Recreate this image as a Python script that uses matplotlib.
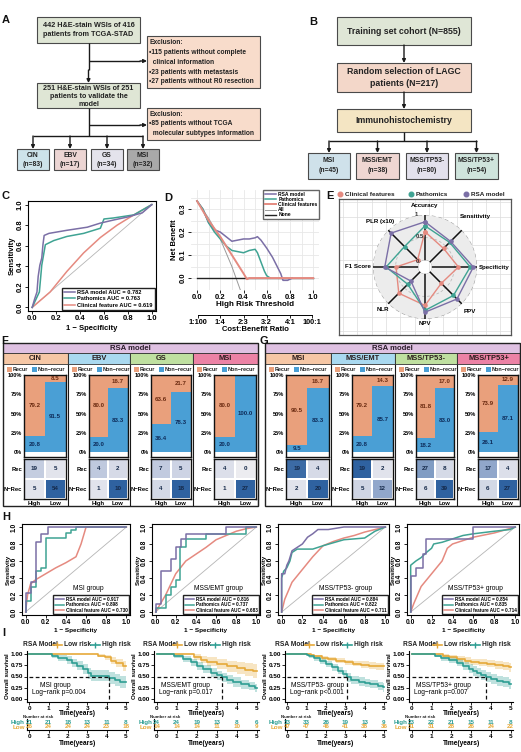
import numpy as np
import matplotlib
matplotlib.use('Agg')
import matplotlib.pyplot as plt
from matplotlib.patches import Rectangle
from matplotlib.colors import LinearSegmentedColormap

# ------------------------------------------------------------------ DATA
A_top = ['442 H&E-stain WSIs of 416', 'patients from TCGA-STAD']
A_excl1 = ['Exclusion:', '\u2022115 patients without complete', '  clinical information',
           '\u202223 patients with metastasis', '\u202227 patients without R0 resection']
A_mid = ['251 H&E-stain WSIs of 251', 'patients to validate the', 'model']
A_excl2 = ['Exclusion:', '\u202285 patients without TCGA', '  molecular subtypes information']
A_subtypes = ['CIN', 'EBV', 'GS', 'MSI']
A_counts = [83, 17, 34, 32]

B_steps = ['Training set cohort (N=855)', 'Random selection of LAGC\npatients (N=217)', 'Immunohistochemistry']
B_subtypes = ['MSI', 'MSS/EMT', 'MSS/TP53-', 'MSS/TP53+']
B_counts = [45, 38, 80, 54]

C_rsa_fpr = [0, 0.02, 0.04, 0.05, 0.064, 0.08, 0.09, 0.10, 0.14, 0.29, 0.46, 0.57, 0.68, 0.80, 0.92, 1.0]
C_rsa_tpr = [0, 0.08, 0.15, 0.30, 0.41, 0.48, 0.61, 0.70, 0.72, 0.75, 0.78, 0.82, 0.85, 0.88, 0.92, 1.0]
C_path_fpr = [0, 0.06, 0.08, 0.11, 0.18, 0.29, 0.43, 0.57, 0.60, 0.68, 0.85, 1.0]
C_path_tpr = [0, 0.15, 0.41, 0.61, 0.65, 0.69, 0.72, 0.77, 0.86, 0.87, 0.90, 1.0]
C_clin_fpr = [0, 0.15, 0.29, 0.43, 0.57, 0.71, 0.85, 1.0]
C_clin_tpr = [0, 0.15, 0.35, 0.53, 0.68, 0.80, 0.90, 1.0]
C_auc = [0.782, 0.763, 0.619]

D_rsa_x = [0, 0.05, 0.10, 0.15, 0.20, 0.25, 0.30, 0.35, 0.40, 0.45, 0.50, 0.52, 0.55, 0.60, 0.65, 0.70, 0.72, 0.74, 0.78, 0.80, 0.82]
D_rsa_y = [0.335, 0.30, 0.24, 0.21, 0.20, 0.18, 0.16, 0.165, 0.17, 0.17, 0.175, 0.18, 0.165, 0.13, 0.09, 0.04, 0.02, -0.01, -0.01, -0.005, 0.0]
D_path_x = [0, 0.05, 0.10, 0.15, 0.20, 0.25, 0.30, 0.35, 0.40, 0.45, 0.50, 0.52, 0.55, 0.58, 0.60, 0.63]
D_path_y = [0.335, 0.30, 0.24, 0.20, 0.17, 0.14, 0.12, 0.115, 0.11, 0.12, 0.125, 0.11, 0.07, 0.03, 0.01, 0.0]
D_clin_x = [0, 0.10, 0.20, 0.30, 0.35, 0.40, 0.43, 0.45, 1.0]
D_clin_y = [0.335, 0.25, 0.18, 0.10, 0.06, 0.02, -0.005, 0.0, 0.0]
D_all_x = [0, 0.10, 0.20, 0.30, 0.35, 0.40]
D_all_y = [0.335, 0.26, 0.17, 0.05, -0.02, -0.09]
D_cb_ticks = [0.01, 0.2, 0.4, 0.6, 0.8, 0.99]
D_cb_labels = ['1:100', '1:4', '2:3', '3:2', '4:1', '100:1']

E_axes = ['Accuracy', 'Sensitivity', 'Specificity', 'PPV', 'NPV', 'NLR', 'F1 Score', 'PLR (x10)']
E_rsa = [0.85, 0.65, 0.92, 0.85, 0.85, 0.29, 0.74, 0.91]
E_path = [0.76, 0.62, 0.85, 0.74, 0.81, 0.39, 0.71, 0.49]
E_clin = [0.63, 0.43, 0.59, 0.36, 0.70, 0.67, 0.49, 0.08]

F_groups = ['CIN', 'EBV', 'GS', 'MSI']
F_high_recur = [79.2, 80.0, 63.6, 80.0]
F_high_nonrecur = [20.8, 20.0, 36.4, 20.0]
F_low_recur = [8.5, 16.7, 21.7, 0.0]
F_low_nonrecur = [91.5, 83.3, 78.3, 100.0]
F_conf = [[[19, 5], [5, 54]], [[4, 2], [1, 10]], [[7, 5], [4, 18]], [[4, 0], [1, 27]]]

G_groups = ['MSI', 'MSS/EMT', 'MSS/TP53-', 'MSS/TP53+']
G_high_recur = [90.5, 79.2, 81.8, 73.9]
G_high_nonrecur = [9.5, 20.8, 18.2, 26.1]
G_low_recur = [16.7, 14.3, 17.0, 12.9]
G_low_nonrecur = [83.3, 85.7, 83.0, 87.1]
G_conf = [[[19, 4], [2, 20]], [[19, 2], [5, 12]], [[27, 8], [6, 39]], [[17, 4], [6, 27]]]

H_titles = ['MSI group', 'MSS/EMT group', 'MSS/TP53- group', 'MSS/TP53+ group']
H_auc_rsa = [0.917, 0.816, 0.884, 0.854]
H_auc_path = [0.898, 0.737, 0.822, 0.835]
H_auc_clin = [0.730, 0.683, 0.711, 0.714]
H_rsa_fpr = [[0, 0, 0.05, 0.05, 0.10, 0.10, 0.15, 0.15, 0.22, 0.22, 1.0],
             [0, 0, 0.05, 0.05, 0.15, 0.15, 0.20, 0.20, 0.25, 0.25, 0.30, 0.30, 0.70, 0.70, 1.0],
             [0, 0, 0.03, 0.05, 0.07, 0.10, 0.15, 0.20, 0.25, 0.30, 0.35, 0.45, 0.60, 1.0],
             [0, 0, 0.05, 0.05, 0.12, 0.12, 0.15, 0.15, 0.60, 0.60, 1.0]]
H_rsa_tpr = [[0, 0.22, 0.22, 0.35, 0.35, 0.82, 0.82, 0.92, 0.92, 1.0, 1.0],
             [0, 0.10, 0.10, 0.48, 0.48, 0.62, 0.62, 0.76, 0.76, 0.86, 0.86, 0.92, 0.92, 1.0, 1.0],
             [0, 0.45, 0.45, 0.55, 0.60, 0.72, 0.76, 0.80, 0.88, 0.92, 0.97, 0.97, 1.0, 1.0],
             [0, 0.42, 0.42, 0.52, 0.52, 0.68, 0.68, 0.86, 0.86, 1.0, 1.0]]
H_path_fpr = [[0, 0, 0.05, 0.05, 0.10, 0.10, 0.15, 0.15, 0.20, 0.20, 0.40, 0.40, 0.45, 0.45, 0.50, 0.50, 1.0],
              [0, 0, 0.10, 0.10, 0.15, 0.15, 0.20, 0.20, 0.24, 0.24, 0.30, 0.30, 0.50, 0.50, 0.90, 0.90, 1.0],
              [0, 0, 0.02, 0.05, 0.08, 0.10, 0.15, 0.30, 0.40, 0.60, 0.80, 0.90, 1.0],
              [0, 0, 0.05, 0.10, 0.15, 0.20, 0.22, 0.30, 0.40, 0.50, 0.60, 0.80, 0.95, 1.0]]
H_path_tpr = [[0, 0.13, 0.13, 0.30, 0.30, 0.48, 0.48, 0.52, 0.52, 0.87, 0.87, 0.93, 0.93, 0.97, 0.97, 1.0, 1.0],
              [0, 0.05, 0.05, 0.20, 0.20, 0.30, 0.30, 0.38, 0.38, 0.76, 0.76, 0.86, 0.86, 0.92, 0.92, 1.0, 1.0],
              [0, 0.40, 0.48, 0.52, 0.60, 0.70, 0.74, 0.74, 0.78, 0.85, 0.87, 0.95, 1.0],
              [0, 0.55, 0.60, 0.64, 0.70, 0.75, 0.80, 0.82, 0.86, 0.90, 0.92, 0.95, 0.97, 1.0]]
H_clin_fpr = [[0, 0.02, 0.05, 0.10, 0.20, 0.30, 0.40, 0.50, 0.55, 0.60, 1.0],
              [0, 0.10, 0.20, 0.30, 0.40, 0.50, 0.60, 0.70, 0.80, 0.90, 1.0],
              [0, 0.03, 0.10, 0.20, 0.30, 0.40, 0.50, 0.60, 0.70, 0.80, 0.90, 1.0],
              [0, 0.03, 0.10, 0.20, 0.30, 0.35, 0.40, 0.50, 0.60, 0.80, 1.0]]
H_clin_tpr = [[0, 0.20, 0.33, 0.38, 0.45, 0.52, 0.58, 0.65, 0.80, 1.0, 1.0],
              [0, 0.20, 0.45, 0.60, 0.68, 0.76, 0.85, 0.90, 0.95, 0.98, 1.0],
              [0, 0.15, 0.35, 0.50, 0.65, 0.78, 0.83, 0.87, 0.90, 0.94, 0.97, 1.0],
              [0, 0.10, 0.30, 0.45, 0.60, 0.75, 0.80, 0.84, 0.88, 0.93, 1.0]]

I_pvals = ['Log\u2212rank p=0.004', 'Log\u2212rank p=0.017', 'Log\u2212rank p<0.001', 'Log\u2212rank p=0.007']
I_low_t = [[0, 3.55, 3.9, 4.2, 4.5, 4.85, 5.0],
           [0, 1.85, 2.2, 2.5, 3.0, 3.5, 4.0, 4.4, 4.8, 5.0],
           [0, 1.2, 1.4, 1.8, 2.1, 2.5, 3.0, 3.4, 3.8, 4.2, 4.6, 5.0],
           [0, 1.6, 1.9, 2.3, 2.7, 3.0, 3.4, 3.8, 4.2, 4.6, 4.9, 5.0]]
I_low_s = [[1.0, 0.96, 0.92, 0.85, 0.80, 0.74, 0.74],
           [1.0, 0.93, 0.87, 0.82, 0.78, 0.72, 0.68, 0.65, 0.62, 0.62],
           [1.0, 0.97, 0.94, 0.91, 0.88, 0.85, 0.81, 0.78, 0.76, 0.74, 0.72, 0.72],
           [1.0, 0.96, 0.92, 0.88, 0.85, 0.82, 0.80, 0.78, 0.75, 0.73, 0.70, 0.70]]
I_low_ci = [[0.0, 0.04, 0.06, 0.08, 0.09, 0.11, 0.11],
            [0.0, 0.06, 0.08, 0.10, 0.11, 0.12, 0.13, 0.14, 0.15, 0.15],
            [0.0, 0.02, 0.03, 0.04, 0.05, 0.05, 0.06, 0.06, 0.07, 0.07, 0.07, 0.07],
            [0.0, 0.03, 0.05, 0.06, 0.07, 0.07, 0.08, 0.08, 0.09, 0.09, 0.10, 0.10]]
I_high_t = [[0, 1.15, 1.5, 1.95, 2.2, 2.45, 2.8, 3.05, 3.2, 4.1, 4.45, 4.7, 5.0],
            [0, 0.85, 1.3, 1.7, 2.0, 2.3, 2.7, 3.0, 3.25, 3.5, 3.8, 4.2, 4.6, 4.9, 5.0],
            [0, 1.0, 1.1, 1.4, 1.7, 2.0, 2.3, 2.6, 2.9, 3.1, 3.3, 3.7, 4.0, 4.3, 4.7, 4.95, 5.0],
            [0, 1.2, 1.5, 1.9, 2.3, 2.6, 2.9, 3.1, 3.3, 3.5, 3.75, 4.0, 4.3, 4.6, 4.9, 5.0]]
I_high_s = [[1.0, 0.95, 0.90, 0.86, 0.80, 0.74, 0.66, 0.57, 0.52, 0.46, 0.42, 0.38, 0.38],
            [1.0, 0.95, 0.88, 0.81, 0.73, 0.66, 0.58, 0.53, 0.48, 0.43, 0.38, 0.33, 0.30, 0.25, 0.25],
            [1.0, 0.97, 0.94, 0.90, 0.84, 0.78, 0.70, 0.63, 0.56, 0.48, 0.43, 0.39, 0.36, 0.33, 0.29, 0.26, 0.26],
            [1.0, 0.96, 0.91, 0.86, 0.80, 0.73, 0.67, 0.62, 0.57, 0.53, 0.48, 0.44, 0.40, 0.37, 0.34, 0.34]]
I_high_ci = [[0.0, 0.05, 0.07, 0.08, 0.09, 0.10, 0.11, 0.12, 0.12, 0.13, 0.13, 0.13, 0.13],
             [0.0, 0.04, 0.06, 0.07, 0.08, 0.09, 0.10, 0.10, 0.10, 0.10, 0.10, 0.10, 0.09, 0.09, 0.09],
             [0.0, 0.03, 0.04, 0.05, 0.06, 0.07, 0.08, 0.08, 0.09, 0.09, 0.09, 0.09, 0.09, 0.09, 0.09, 0.09, 0.09],
             [0.0, 0.04, 0.06, 0.07, 0.08, 0.09, 0.10, 0.10, 0.11, 0.11, 0.11, 0.11, 0.11, 0.11, 0.11, 0.11]]
I_median = [4.1, 3.25, 3.1, 3.75]
I_risk_times = [0, 1, 2, 3, 4, 5]
I_risk_high = [[21, 21, 18, 13, 11, 8], [24, 24, 19, 13, 8, 6], [33, 33, 26, 19, 13, 9], [23, 22, 21, 15, 11, 8]]
I_risk_low = [[26, 24, 24, 24, 23, 18], [14, 14, 14, 11, 10, 9], [47, 47, 46, 41, 38, 36], [31, 31, 28, 26, 24, 22]]

# ------------------------------------------------------------------ STYLE
C_RSA, C_PATH, C_CLIN = '#7b6fa6', '#3fa393', '#e58a80'
C_RECUR, C_NONREC = '#e9a07c', '#4a9fd5'
C_LOW, C_HIGH = '#e6a93a', '#2e9e93'
W, H = 521, 752
plt.rcParams['font.family'] = ['Liberation Sans', 'DejaVu Sans']
plt.rcParams['font.weight'] = 'bold'
plt.rcParams['axes.labelweight'] = 'bold'
plt.rcParams['axes.linewidth'] = 0.8

fig = plt.figure(figsize=(W / 100, H / 100), dpi=100)
fig.patch.set_facecolor('white')


def axpx(x0, y0, x1, y1, **kw):
    return fig.add_axes([x0 / W, 1 - y1 / H, (x1 - x0) / W, (y1 - y0) / H], **kw)


bg = fig.add_axes([0, 0, 1, 1])
bg.set_xlim(0, W)
bg.set_ylim(H, 0)
bg.axis('off')


def rect(x0, y0, x1, y1, fc, ec='#4a4a4a', lw=0.8, z=1):
    bg.add_patch(Rectangle((x0, y0), x1 - x0, y1 - y0, facecolor=fc, edgecolor=ec, lw=lw, zorder=z))


def seg(xs, ys, lw=1.0):
    bg.plot(xs, ys, color='#1a1a1a', lw=lw, solid_capstyle='butt', zorder=2)


def arrow(x, y0, y1=None, x1=None):
    if y1 is None:
        y1 = y0
    if x1 is None:
        x1 = x
    bg.annotate('', xy=(x1, y1), xytext=(x, y0),
                arrowprops=dict(arrowstyle='-|>', color='#1a1a1a', lw=1.0,
                                shrinkA=0, shrinkB=0, mutation_scale=5), zorder=3)


def txt(x, y, s, fs=5, ha='center', va='center', color='#222222', **kw):
    bg.text(x, y, s, fontsize=fs, ha=ha, va=va, color=color, zorder=5, **kw)


def panel_letter(x, y, s):
    txt(x, y, s, fs=8, ha='left', color='#111111')


# ------------------------------------------------------------------ A
panel_letter(2, 20, 'A')
rect(37, 17, 140, 43, '#dfe6d5')
for i, s in enumerate(A_top):
    txt(88.5, 25.5 + i * 9.5, s, fs=5.2)
rect(147, 36, 260, 88, '#f8dccb')
for i, s in enumerate(A_excl1):
    txt(149, 43 + i * 9.7, s, fs=4.75, ha='left')
rect(37, 83, 140, 108, '#dfe6d5')
for i, s in enumerate(A_mid):
    txt(88.5, 89 + i * 7.6, s, fs=5.1)
rect(147, 108, 260, 140, '#f8dccb')
for i, s in enumerate(A_excl2):
    txt(149, 114 + i * 9.7, s, fs=4.75, ha='left')
seg([88.5, 88.5], [43, 70])
arrow(88.5, 70, 83)
seg([88.5, 140], [61, 61])
arrow(140, 61, 61, x1=147)
seg([88.5, 88.5], [108, 136])
seg([88.5, 140], [125, 125])
arrow(140, 125, 125, x1=147)
A_box_x = [(17, 49), (54, 86), (91, 123), (127, 159)]
A_colors = ['#cde3ea', '#ecd5d3', '#e4e3ec', '#a9a9a9']
seg([33, 143], [136, 136])
for (x0, x1), name, n, c in zip(A_box_x, A_subtypes, A_counts, A_colors):
    xc = (x0 + x1) / 2
    arrow(xc, 136, 149)
    rect(x0, 149, x1, 170, c)
    txt(xc, 155.5, name, fs=4.9)
    txt(xc, 164.5, '(n=%d)' % n, fs=4.9)

# ------------------------------------------------------------------ B
panel_letter(309, 22, 'B')
B_colors = ['#dfe6d6', '#f3d7c9', '#f4e5c3']
B_y = [(17, 45), (63, 92), (109, 132)]
for (y0, y1), s, c in zip(B_y, B_steps, B_colors):
    rect(337, y0, 471, y1, c)
    txt(404, (y0 + y1) / 2, s, fs=6.3, linespacing=1.45)
arrow(404, 45, 63)
arrow(404, 92, 109)
seg([404, 404], [132, 141])
seg([329, 477], [141, 141])
B_box_x = [(308, 350), (356, 399), (406, 448), (455, 498)]
B_sub_colors = ['#cfe1ea', '#efd6d2', '#e3e1ec', '#cfe4dc']
for (x0, x1), name, n, c in zip(B_box_x, B_subtypes, B_counts, B_sub_colors):
    xc = (x0 + x1) / 2
    arrow(xc, 141, 153)
    rect(x0, 153, x1, 179, c)
    txt(xc, 160.5, name, fs=4.9)
    txt(xc, 171, '(n=%d)' % n, fs=4.9)


# ------------------------------------------------------------------ helpers
def roc_axes(ax, fs=5.2):
    ax.plot([0, 1], [0, 1], color='#b5b5b5', lw=0.6, zorder=1)
    ax.set_xlim(-0.035, 1.035)
    ax.set_ylim(-0.035, 1.035)
    ticks = [0, 0.2, 0.4, 0.6, 0.8, 1.0]
    ax.set_xticks(ticks)
    ax.set_yticks(ticks)
    ax.set_xticklabels(['%.1f' % t for t in ticks])
    ax.set_yticklabels(['%.1f' % t for t in ticks], rotation=90, va='center')
    ax.tick_params(labelsize=fs, length=2, width=0.6, pad=1)
    for sp in ax.spines.values():
        sp.set_linewidth(0.8)


# ------------------------------------------------------------------ C
panel_letter(2, 196, 'C')
axC = axpx(28, 201, 156, 311)
axC.plot(C_rsa_fpr, C_rsa_tpr, color=C_RSA, lw=1.1,
         label='RSA model AUC = %.3f' % C_auc[0], zorder=4)
axC.plot(C_path_fpr, C_path_tpr, color=C_PATH, lw=1.1,
         label='Pathomics AUC = %.3f' % C_auc[1], zorder=3)
axC.plot(C_clin_fpr, C_clin_tpr, color=C_CLIN, lw=1.1,
         label='Clinical feature AUC = %.3f' % C_auc[2], zorder=2)
roc_axes(axC, fs=5.5)
axC.set_xlabel('1 \u2212 Specificity', fontsize=5.5, labelpad=2)
axC.set_ylabel('Sensitivity', fontsize=5.5, labelpad=1)
axC.legend(loc='lower right', fontsize=4.1, frameon=True, fancybox=False, edgecolor='#222222',
           framealpha=1, handlelength=1.8, borderpad=0.35, labelspacing=0.25,
           borderaxespad=0.2, handletextpad=0.5)

# ------------------------------------------------------------------ D
panel_letter(164, 198, 'D')
axD = axpx(191, 190, 319, 290)
axD.plot(D_rsa_x, D_rsa_y, color=C_RSA, lw=1.1, label='RSA model', zorder=4)
axD.plot(D_path_x, D_path_y, color=C_PATH, lw=1.1, label='Pathomics', zorder=4)
axD.plot(D_clin_x, D_clin_y, color=C_CLIN, lw=1.4, label='Clinical features', zorder=5)
axD.plot(D_all_x, D_all_y, color='#9a9a9a', lw=0.7, label='All', zorder=3)
axD.plot([0, 1], [0, 0], color='#222222', lw=1.0, label='None', zorder=3)
axD.set_xlim(-0.052, 1.05)
axD.set_ylim(-0.052, 0.383)
axD.set_xticks([0, 0.2, 0.4, 0.6, 0.8, 1.0])
axD.set_xticklabels(['0.0', '0.2', '0.4', '0.6', '0.8', '1.0'])
axD.set_yticks([0, 0.1, 0.2, 0.3])
axD.set_yticklabels(['0.0', '0.1', '0.2', '0.3'], rotation=90, va='center')
axD.set_xticks([0.1, 0.3, 0.5, 0.7, 0.9], minor=True)
axD.set_yticks([0.05, 0.15, 0.25, 0.35], minor=True)
axD.grid(True, which='both', color='#e8e8e8', lw=0.6)
axD.tick_params(labelsize=5.5, length=2, width=0.6, pad=1)
axD.tick_params(which='minor', length=0)
for sp in axD.spines.values():
    sp.set_visible(False)
axD.set_xlabel('High Risk Threshold', fontsize=5.8, labelpad=0)
axD.set_ylabel('Net Benefit', fontsize=5.5, labelpad=1)
axD.legend(loc='upper right', bbox_to_anchor=(1.0, 1.0), fontsize=3.6, frameon=True, fancybox=False,
           edgecolor='#666666', framealpha=1, handlelength=2.2, borderpad=0.3, labelspacing=0.05,
           borderaxespad=0.0, handletextpad=0.5)
sec = axD.secondary_xaxis(-0.25)
sec.set_xticks(D_cb_ticks)
sec.set_xticklabels(D_cb_labels)
sec.tick_params(labelsize=5.3, length=2, width=0.6, pad=1)
sec.spines['bottom'].set_bounds(0.01, 0.99)
sec.spines['bottom'].set_linewidth(0.7)
sec.set_xlabel('Cost:Benefit Ratio', fontsize=5.5, labelpad=0)

# ------------------------------------------------------------------ E
panel_letter(326, 196, 'E')
for xd, name, c in [(340, 'Clinical features', C_CLIN), (411, 'Pathomics', C_PATH), (466, 'RSA model', C_RSA)]:
    bg.plot([xd], [194], 'o', color=c, ms=3.3, zorder=5)
    txt(xd + 5, 194.5, name, fs=4.6, ha='left')
axEb = axpx(339, 199, 511, 335)
axEb.set_xlim(0, 172)
axEb.set_ylim(0, 136)
axEb.set_xticks(np.arange(4, 172, 14.3))
axEb.set_yticks(np.arange(4, 136, 14.3))
axEb.grid(True, color='#dcdcdc', lw=0.5)
axEb.tick_params(length=0, labelbottom=False, labelleft=False)
for sp in axEb.spines.values():
    sp.set_color('#555555')
    sp.set_linewidth(0.9)
R = 52
axE = axpx(425 - R, 267 - R, 425 + R, 267 + R, projection='polar')
axE.set_theta_zero_location('N')
axE.set_theta_direction(-1)
axE.set_ylim(0, 1)
axE.set_rorigin(-0.15)
axE.axis('off')
th = np.linspace(0, 2 * np.pi, 200)
axE.fill_between(th, 0, 1, color='#ececec', zorder=1, lw=0)
axE.plot(th, np.ones_like(th), color='#9a9a9a', lw=0.7, ls=(0, (4, 3)), zorder=2)
axE.plot(th, np.full_like(th, 0.5), color='#b5b5b5', lw=0.5, ls=(0, (4, 3)), zorder=2)
axE.plot(th, np.zeros_like(th), color='#a0a0a0', lw=0.5, zorder=2)
angles = np.arange(8) * 2 * np.pi / 8
for a in angles:
    axE.plot([a, a], [0, 1], color='#111111', lw=1.1, zorder=3)
ang_c = np.append(angles, angles[0])
for vals, c in [(E_clin, C_CLIN), (E_path, C_PATH), (E_rsa, C_RSA)]:
    v = np.append(vals, vals[0])
    axE.plot(ang_c, v, color=c, lw=1.0, marker='o', ms=2.3, zorder=4)
E_lab_r = [1.20, 1.42, 1.38, 1.24, 1.11, 1.18, 1.33, 1.27]
for a, name, r in zip(angles, E_axes, E_lab_r):
    axE.text(a, r, name, fontsize=4.4, ha='center', va='center', clip_on=False, zorder=5)
for r, s in [(1.0, '1'), (0.5, '0.5'), (0.02, '0')]:
    axE.text(-0.16 if r > 0.1 else -0.9, r + 0.03, s, fontsize=4.2, ha='center', va='center',
             color='#333333', zorder=5, clip_on=False)


# ------------------------------------------------------------------ F / G
cmap_conf = LinearSegmentedColormap.from_list('conf', ['#ececf0', '#b4c0da', '#2f62a0'])


def subtype_block(c0, c1, name, hcol, hr, hn, lr, ln, conf):
    rect(c0, 353, c1, 363.5, hcol, ec='#333333', lw=0.6, z=2)
    txt((c0 + c1) / 2, 358.5, name, fs=5.4, color='#2b1d1d')
    rect(c0 + 3.5, 366.5, c0 + 9, 371.5, C_RECUR, ec='none', z=2)
    txt(c0 + 9.5, 369.3, 'Recur', fs=3.9, ha='left')
    rect(c0 + 28.5, 366.5, c0 + 34, 371.5, C_NONREC, ec='none', z=2)
    txt(c0 + 34.5, 369.3, 'Non\u2212recur', fs=3.9, ha='left')
    axb = axpx(c0 + 21, 375, c1 - 2.5, 457)
    xs = [0, 1]
    nonrec = [hn, ln]
    recur = [hr, lr]
    axb.bar(xs, nonrec, width=1.0, color=C_NONREC, lw=0)
    axb.bar(xs, recur, width=1.0, bottom=nonrec, color=C_RECUR, lw=0)
    for x, n, r in zip(xs, nonrec, recur):
        if n > 0:
            axb.text(x, n / 2, '%.1f' % n, fontsize=4.4, ha='center', va='center', color='#0e2c5a')
        if r > 0:
            axb.text(x, n + r / 2, '%.1f' % r, fontsize=4.4, ha='center', va='center', color='#6a2a10')
    axb.set_xlim(-0.5, 1.5)
    axb.set_ylim(-6, 100)
    axb.set_xticks([])
    axb.set_yticks([0, 25, 50, 75, 100])
    axb.set_yticklabels(['0%', '25%', '50%', '75%', '100%'])
    axb.tick_params(labelsize=4.1, length=0, pad=1.5)
    for sp in axb.spines.values():
        sp.set_linewidth(1.0)
        sp.set_color('#111111')
    axc = axpx(c0 + 21, 459, c1 - 2.5, 499)
    m = np.array(conf, dtype=float)
    axc.pcolormesh(np.arange(3), np.arange(3), m, cmap=cmap_conf, vmin=0, vmax=m.max(),
                   edgecolors='white', linewidth=1.2)
    for i in range(2):
        for j in range(2):
            axc.text(j + 0.5, i + 0.5, '%d' % conf[i][j], fontsize=4.5, ha='center', va='center',
                     color='#142848')
    axc.set_xlim(0, 2)
    axc.set_ylim(2, 0)
    axc.set_xticks([0.5, 1.5])
    axc.set_xticklabels(['High', 'Low'])
    axc.set_yticks([0.5, 1.5])
    axc.set_yticklabels(['Rec', 'N\u2212Rec'])
    axc.tick_params(labelsize=4.2, length=0, pad=1.5)
    for sp in axc.spines.values():
        sp.set_linewidth(1.0)
        sp.set_color('#111111')


def big_panel(x0, x1, cols, names, hcols, hr, hn, lr, ln, confs):
    rect(x0, 343, x1, 353, '#dfc1e2', ec='#333333', lw=0.6, z=2)
    txt((x0 + x1) / 2, 348.3, 'RSA model', fs=5.6, color='#2b1d2b')
    for (c0, c1), nm, hc, a, b, c, d, cf in zip(cols, names, hcols, hr, hn, lr, ln, confs):
        subtype_block(c0, c1, nm, hc, a, b, c, d, cf)
        seg([c1, c1], [353, 506], lw=0.8)
    rect(x0, 343, x1, 506, 'none', ec='#222222', lw=1.0, z=3)


hcols = ['#f6c7a5', '#a9d9f0', '#bfe0a0', '#ec82a5']
panel_letter(1, 341, 'F')
big_panel(3, 258, [(3, 68), (68, 130), (130, 193), (193, 258)], F_groups, hcols,
          F_high_recur, F_high_nonrecur, F_low_recur, F_low_nonrecur, F_conf)
panel_letter(259, 341, 'G')
big_panel(265, 520, [(265, 331), (331, 395), (395, 457), (457, 520)], G_groups, hcols,
          G_high_recur, G_high_nonrecur, G_low_recur, G_low_nonrecur, G_conf)

# ------------------------------------------------------------------ H
panel_letter(2, 517, 'H')
H_pos = [(22, 130), (152, 260), (278, 389), (407, 519)]
for k, (x0, x1) in enumerate(H_pos):
    ax = axpx(x0, 524, x1, 615)
    ax.plot(H_rsa_fpr[k], H_rsa_tpr[k], color=C_RSA, lw=1.1, zorder=4,
            label='RSA model AUC = %.3f' % H_auc_rsa[k])
    ax.plot(H_path_fpr[k], H_path_tpr[k], color=C_PATH, lw=1.1, zorder=3,
            label='Pathomics AUC = %.3f' % H_auc_path[k])
    ax.plot(H_clin_fpr[k], H_clin_tpr[k], color=C_CLIN, lw=1.1, zorder=2,
            label='Clinical feature AUC = %.3f' % H_auc_clin[k])
    roc_axes(ax, fs=4.8)
    ax.set_xlabel('1 \u2212 Specificity', fontsize=4.6, labelpad=1)
    ax.set_ylabel('Sensitivity', fontsize=4.3, labelpad=0)
    ax.legend(loc='lower right', fontsize=3.3, frameon=True, fancybox=False, edgecolor='#222222',
              framealpha=1, handlelength=2.0, borderpad=0.3, labelspacing=0.15,
              borderaxespad=0.15, handletextpad=0.5)
    ax.text(0.62, 0.28, H_titles[k], fontsize=4.8, ha='center', va='center', fontweight='normal')

# ------------------------------------------------------------------ I
panel_letter(2, 633, 'I')
I_pos = [(29.3, 19.34), (156.7, 20.0), (287.3, 19.34), (411.7, 19.8)]
I_leg_x = [23, 143, 275, 403]
I_title_x = [0.55, 0.2, 0.2, 0.2]
for k, (x0, ppy) in enumerate(I_pos):
    left, right = x0 - 0.12 * ppy, x0 + 5.12 * ppy
    ax = axpx(left, 651, right, 702)
    lt, ls_, lc = np.array(I_low_t[k]), np.array(I_low_s[k]), np.array(I_low_ci[k])
    ht, hs, hc = np.array(I_high_t[k]), np.array(I_high_s[k]), np.array(I_high_ci[k])
    ax.fill_between(lt, ls_ - lc, np.minimum(ls_ + lc, 1), step='post', color=C_LOW, alpha=0.3, lw=0)
    ax.fill_between(ht, hs - hc, np.minimum(hs + hc, 1), step='post', color=C_HIGH, alpha=0.3, lw=0)
    ax.step(lt, ls_, where='post', color=C_LOW, lw=1.2)
    ax.step(ht, hs, where='post', color=C_HIGH, lw=1.2)
    med = I_median[k]
    ax.plot([0, med], [0.5, 0.5], color='#111111', lw=0.9, ls=(0, (3, 2)))
    ax.plot([med, med], [0, 0.5], color='#111111', lw=0.9, ls=(0, (3, 2)))
    ax.set_xlim(-0.12, 5.12)
    ax.set_ylim(-0.06, 1.06)
    ax.set_xticks(range(6))
    ax.set_yticks([0, 0.25, 0.5, 0.75, 1.0])
    ax.set_yticklabels(['0.00', '0.25', '0.50', '0.75', '1.00'])
    ax.tick_params(labelsize=4.6, length=2, width=0.6, pad=0.8)
    ax.spines['top'].set_visible(False)
    ax.spines['right'].set_visible(False)
    ax.set_xlabel('Time(years)', fontsize=4.7, labelpad=-0.5)
    ax.set_ylabel('Overall survival', fontsize=4.4, labelpad=0.5)
    ax.text(I_title_x[k], 0.31, H_titles[k], fontsize=4.8, ha='left', va='center', fontweight='normal')
    ax.text(0.12, 0.15, I_pvals[k], fontsize=4.8, ha='left', va='center', fontweight='normal')
    lx = I_leg_x[k]
    txt(lx, 645, 'RSA Model', fs=4.8, ha='left')
    for dx, col, lab in [(34, C_LOW, 'Low risk'), (72, C_HIGH, 'High risk')]:
        bg.plot([lx + dx - 4.5, lx + dx + 4.5], [645, 645], color=col, lw=1.2, zorder=5)
        bg.plot([lx + dx], [645], marker='|', color=col, ms=4, mew=1.0, zorder=5)
        txt(lx + dx + 7, 645, lab, fs=4.8, ha='left', color='#222222')
    axr = axpx(left, 719, right, 730)
    for t, nh, nl in zip(I_risk_times, I_risk_high[k], I_risk_low[k]):
        axr.text(t, 1, str(nh), fontsize=4.5, ha='center', va='center', color=C_HIGH)
        axr.text(t, 0, str(nl), fontsize=4.5, ha='center', va='center', color=C_LOW)
    axr.set_xlim(-0.12, 5.12)
    axr.set_ylim(-0.6, 1.6)
    axr.set_xticks(range(6))
    axr.set_yticks([1, 0])
    axr.set_yticklabels(['High', 'Low'])
    for tl, col in zip(axr.get_yticklabels(), [C_HIGH, C_LOW]):
        tl.set_color(col)
    axr.tick_params(axis='y', labelsize=4.5, length=0, pad=1.5)
    axr.tick_params(axis='x', labelsize=4.6, length=2, width=0.6, pad=1)
    axr.spines['top'].set_visible(False)
    axr.spines['right'].set_visible(False)
    axr.set_xlabel('Time(years)', fontsize=4.8, labelpad=0.5)
    txt(left - 4, 716.8, 'Number at risk', fs=3.2, ha='left')

fig.savefig('out.png', dpi=100, facecolor='white')
